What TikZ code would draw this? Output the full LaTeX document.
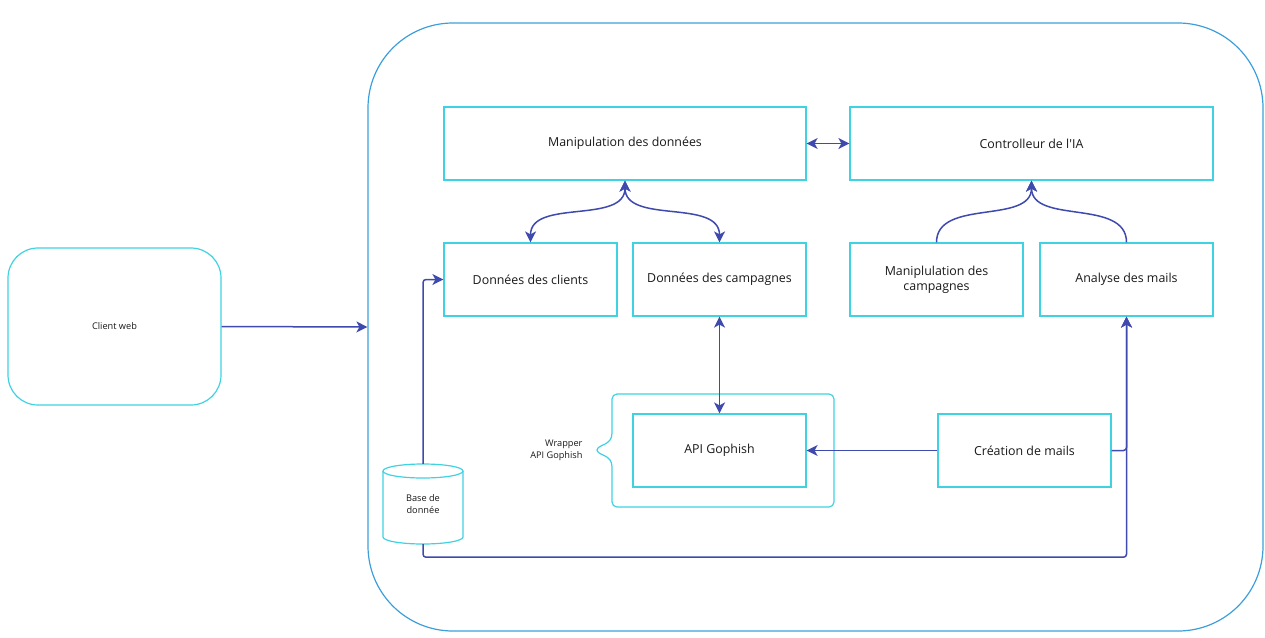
\documentclass[tikz,border=0pt]{standalone}
\usepackage{fontspec}
\setmainfont{Open Sans}
\usepackage{tikz}
\usetikzlibrary{arrows.meta}
\definecolor{boxcyan}{HTML}{3FD2E2}
\definecolor{outerblue}{HTML}{3C9FDC}
\definecolor{linkblue}{HTML}{3E4AAD}

\begin{document}
\begin{tikzpicture}[x=1pt,y=-1pt,
   box/.style={draw=boxcyan,line width=1.2pt,rectangle,inner sep=2pt,align=center,
      minimum width=#1,minimum height=73pt,text=black!90,font=\fontsize{12.4}{15}\selectfont},
   box/.default=173pt,
   small/.style={text=black!90,font=\fontsize{9.2}{12}\selectfont,align=center},
   link/.style={draw=linkblue,line width=1.5pt,arrows={-Stealth[length=11pt,width=11pt,inset=3pt]}},
   link2/.style={draw=linkblue,line width=1.5pt,arrows={Stealth[length=11pt,width=11pt,inset=3pt]-Stealth[length=11pt,width=11pt,inset=3pt]}}]
\useasboundingbox (0,0) rectangle (1265,637);
\node[draw=outerblue,line width=1.2pt,rounded corners=85pt,minimum width=895pt,minimum height=608pt] (sys) at (815.5,327) {};
\node[draw=boxcyan,line width=1.2pt,rounded corners=30pt,minimum width=213pt,minimum height=157pt,small] (client) at (114.5,326.5) {Client web};

\node[box=362pt] (manip) at (625,143.5) {Manipulation des données};
\node[box=363pt] (ctrl) at (1031.5,143.5) {Controlleur de l\textquotesingle IA};
\node[box] (clients) at (530.5,279.5) {Données des clients};
\node[box] (campagnes) at (719.5,279.5) {Données des campagnes};
\node[box] (maniCamp) at (936.5,279.5) {Maniplulation des\\campagnes};
\node[box] (analyse) at (1126.5,279.5) {Analyse des mails};
\node[box] (api) at (719.5,450.5) {API Gophish};
\node[box] (creation) at (1024.5,450.5) {Création de mails};

\draw[boxcyan,line width=1.2pt,rounded corners=5pt] (612,433) -- (612,394) -- (834,394) -- (834,507) -- (612,507) -- (612,467);
\draw[boxcyan,line width=1.2pt] (612,433) .. controls (612,446) and (598,444) .. (597,450)
   .. controls (598,456) and (612,454) .. (612,467);
\node[small,anchor=east,align=right] (wrapLbl) at (586,450) {Wrapper\\API Gophish};

\draw[boxcyan,line width=1.2pt,fill=white] (383,471) -- (383,537) arc[start angle=180,end angle=360,x radius=40pt,y radius=7pt] -- (463,471);
\draw[boxcyan,line width=1.2pt] (423,471) ellipse[x radius=40pt,y radius=7pt];
\node[minimum width=80pt,minimum height=80pt,inner sep=0pt,small] (bdd) at (423,504) {Base de\\donnée};

\draw[link] (client.east) -- (sys.west);
\draw[link2] (manip.east) -- (ctrl.west);
\draw[link2] (manip.south) to[out=-90,in=90] (clients.north);
\draw[link2] (manip.south) to[out=-90,in=90] (campagnes.north);
\draw[link] (maniCamp.north) to[out=90,in=-90] (ctrl.south);
\draw[link] (analyse.north) to[out=90,in=-90] (ctrl.south);
\draw[link2] (campagnes.south) -- (api.north);
\draw[link] (creation.west) -- (api.east);
\draw[link,rounded corners=3pt] (creation.east) -| (analyse.south);
\draw[link,rounded corners=3pt] (bdd.north) |- (clients.west);
\draw[link,rounded corners=3pt] (bdd.south) -- ++(0,13) -| (analyse.south);
\end{tikzpicture}
\end{document}
